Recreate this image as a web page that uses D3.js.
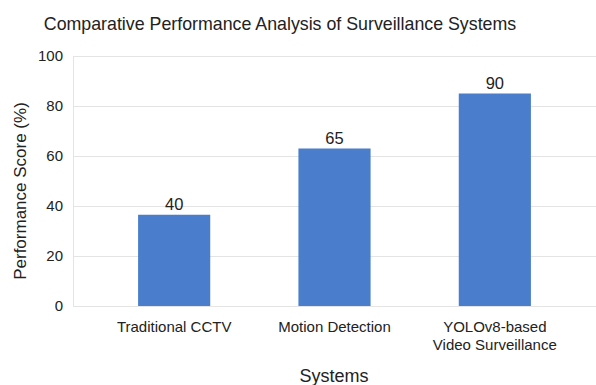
<!DOCTYPE html>
<html>
<head>
<meta charset="utf-8">
<script src="https://cdn.jsdelivr.net/npm/d3@7"></script>
<style>
  html, body { margin: 0; padding: 0; background: #fff; }
  svg { display: block; }
  text { font-family: "Liberation Sans", Arial, Helvetica, sans-serif; fill: #222; }
</style>
</head>
<body>
<svg id="chart" width="596" height="385"></svg>
<script>
// ---- data ----
const categories = ["Traditional CCTV", "Motion Detection", "YOLOv8-based Video Surveillance"];
const categoryLines = [["Traditional CCTV"], ["Motion Detection"], ["YOLOv8-based", "Video Surveillance"]];
const barValues = [36.5, 63, 85];          // bar heights as drawn
const valueLabels = ["40", "65", "90"];    // labels printed above bars
const yTicks = [0, 20, 40, 60, 80, 100];
const titleText = "Comparative Performance Analysis of Surveillance Systems";
const xTitle = "Systems";
const yTitle = "Performance Score (%)";

// ---- layout ----
const W = 596, H = 385;
const plot = { left: 73, right: 596, top: 56, bottom: 306 };

const svg = d3.select("#chart");

const x = d3.scaleBand()
  .domain(categories)
  .range([94, 575])
  .paddingInner(0.55)
  .paddingOuter(0.275);

const y = d3.scaleLinear().domain([0, 100]).range([plot.bottom, plot.top]);

// gridlines
svg.append("g").selectAll("line")
  .data(yTicks)
  .join("line")
  .attr("x1", plot.left).attr("x2", plot.right)
  .attr("y1", d => y(d) + 0.5).attr("y2", d => y(d) + 0.5)
  .attr("stroke", "#e4e4e4").attr("stroke-width", 1);

// left vertical line
svg.append("line")
  .attr("x1", plot.left + 0.5).attr("x2", plot.left + 0.5)
  .attr("y1", plot.top).attr("y2", plot.bottom)
  .attr("stroke", "#e4e4e4");

// y axis labels
const yAxis = d3.axisLeft(y).tickValues(yTicks).tickSize(0).tickPadding(10);
const gy = svg.append("g").attr("transform", `translate(${plot.left},0)`).call(yAxis);
gy.select(".domain").remove();
gy.selectAll("text")
  .attr("font-size", 15)
  .attr("font-family", "Liberation Sans, Arial, sans-serif")
  .attr("fill", "#222");

// bars
svg.append("g").selectAll("rect")
  .data(categories)
  .join("rect")
  .attr("x", d => x(d))
  .attr("width", x.bandwidth())
  .attr("y", (d, i) => y(barValues[i]))
  .attr("height", (d, i) => y(0) - y(barValues[i]))
  .attr("fill", "#4a7dcb");

// value labels
svg.append("g").selectAll("text")
  .data(categories)
  .join("text")
  .attr("x", d => x(d) + x.bandwidth() / 2)
  .attr("y", (d, i) => y(barValues[i]) - 5)
  .attr("text-anchor", "middle")
  .attr("font-size", 16.5)
  .text((d, i) => valueLabels[i]);

// x category labels
const gx = svg.append("g");
categories.forEach((c, i) => {
  const t = gx.append("text")
    .attr("x", x(c) + x.bandwidth() / 2)
    .attr("y", 332)
    .attr("text-anchor", "middle")
    .attr("font-size", 15);
  categoryLines[i].forEach((ln, j) => {
    t.append("tspan")
      .attr("x", x(c) + x.bandwidth() / 2)
      .attr("dy", j === 0 ? 0 : 18)
      .text(ln);
  });
});

// x title
svg.append("text")
  .attr("x", 334).attr("y", 382)
  .attr("text-anchor", "middle")
  .attr("font-size", 18)
  .text(xTitle);

// y title
svg.append("text")
  .attr("transform", `translate(26,191) rotate(-90)`)
  .attr("text-anchor", "middle")
  .attr("font-size", 17)
  .text(yTitle);

// title
svg.append("text")
  .attr("x", 280).attr("y", 30)
  .attr("text-anchor", "middle")
  .attr("font-size", 17.8)
  .text(titleText);
</script>
</body>
</html>
